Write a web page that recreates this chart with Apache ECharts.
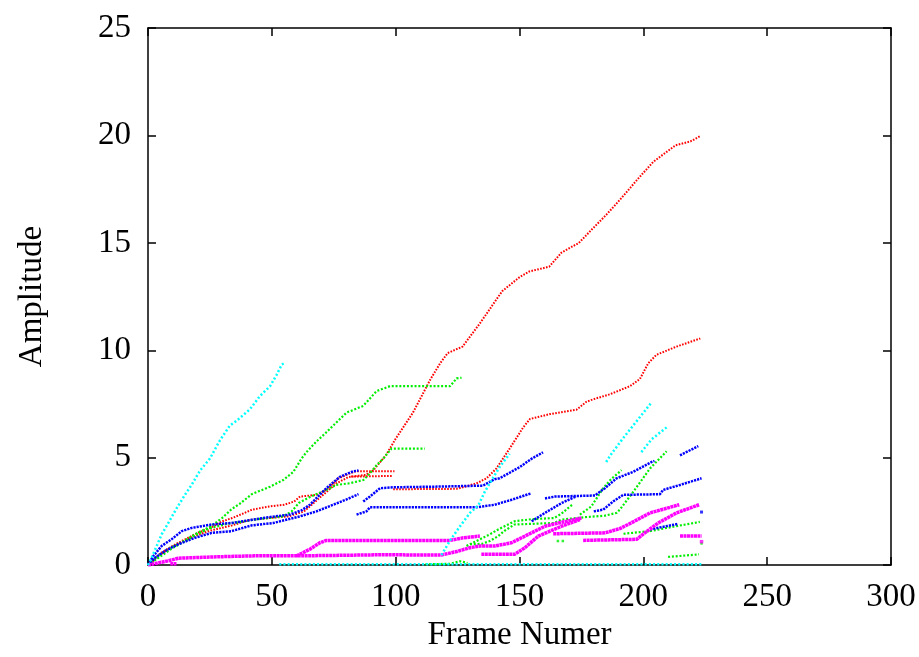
<!DOCTYPE html>
<html><head><meta charset="utf-8">
<script src="https://cdn.jsdelivr.net/npm/echarts@6/dist/echarts.min.js"></script>
<style>html,body{margin:0;padding:0;background:#fff;overflow:hidden}#c{width:919px;height:657px}</style>
</head><body><div id="c"></div>
<script>
// Axis ranges / ticks
const xMin = 0, xMax = 300, xStep = 50;
const yMin = 0, yMax = 25, yStep = 5;

// Red traces [frame, amplitude]
const redA = [[0,0],[5,0.55],[10,0.9],[15,1.2],[20,1.5],[25,1.72],[30,2.04],[34,2.19],[39,2.43],[42,2.58],[49,2.73],[55,2.81],[59,2.96],[61.4,3.19],[68,3.27],[72,3.5],[77,4.04],[81.5,4.27],[84,4.37],[99.5,4.37]];
const redB = [[0,0],[5,0.5],[10,0.85],[15,1.15],[20,1.4],[25,1.6],[34,1.85],[41,2.1],[50,2.2],[57,2.27],[63,2.5],[68,3.0],[72,3.4],[76,3.8],[81,4.1],[88,4.2],[91,4.42],[96,5.1],[100,5.88],[107,7.1],[114,8.64],[118,9.4],[121,9.87],[127,10.17],[134,11.25],[143,12.75],[150,13.4],[154,13.67],[162,13.89],[167,14.55],[174,15.0],[179,15.6],[185,16.3],[190.5,17.0],[198,18.0],[204,18.77],[213,19.54],[219,19.72],[223,19.97]];
const redC = [[82,4.12],[98.4,4.15]];
const redD = [[99,3.53],[124.6,3.55],[128,3.65],[132.7,3.81],[136.7,4.04],[140.7,4.5],[146,5.42],[151.5,6.41],[154.2,6.8],[162.3,7.03],[173,7.23],[177,7.6],[179.8,7.72],[186.5,7.95],[194.6,8.33],[198.6,8.66],[202,9.4],[205.3,9.79],[213.4,10.17],[223,10.55]];

// Green traces
const greenA = [[0,0],[5,0.5],[10,0.85],[15,1.15],[20,1.5],[25,1.78],[27.7,2.0],[30,2.2],[33.7,2.6],[37,2.85],[41.9,3.3],[45,3.45],[49.3,3.65],[54.6,3.96],[58.7,4.34],[62,4.96],[64,5.26],[68,5.75],[72,6.18],[77.5,6.8],[80.2,7.1],[86.9,7.41],[92.3,8.1],[97.7,8.33],[122,8.33],[124.6,8.69],[126.6,8.72]];
const greenB = [[0,0],[10,0.8],[20,1.45],[25,1.72],[32,1.92],[39.2,2.04],[43,2.12],[54.6,2.27],[58,2.5],[61,2.9],[65,3.15],[72,3.5],[76,3.73],[81.5,3.81],[87,3.96],[89.6,4.27],[92.3,4.65],[95,4.96],[98.3,5.42],[111.8,5.42]];
const greenBot = [[112,0.04],[122,0.06],[126,0.18],[129,0.1]];
const greenC = [[128.6,0.89],[134,1.2],[138,1.43],[141.4,1.66],[148,2.04],[155,2.14],[164,2.19],[167,2.4],[170.4,2.73],[171.5,2.82]];
const greenD = [[130,0.97],[135,0.99],[138,1.12],[141.4,1.35],[144,1.6],[148,1.89],[164,1.96],[167,2.12],[176.4,2.23],[184.5,2.3],[189.2,2.43],[190.5,2.58],[196,3.42],[202.7,4.5],[209.4,5.3]];
const greenE = [[174.4,2.35],[179,2.73],[183.8,3.58],[187,4.0],[191.2,4.42]];
const greenF = [[192,1.46],[202.7,1.58],[209.4,1.73],[222.8,2.01]];
const greenG = [[210,0.38],[222.5,0.5]];
const greenDots = [[165.5,1.12],[167.5,1.12],[223.5,1.01]];

// Blue traces
const blueA = [[0,0],[2,0.4],[5.5,0.89],[9.5,1.2],[13.6,1.58],[17.6,1.73],[25.7,1.89],[33.7,1.96],[42.5,2.12],[50,2.25],[57.3,2.35],[62,2.55],[65.4,2.81],[72,3.58],[77.5,4.11],[82.9,4.37],[85,4.4]];
const blueB = [[0,0],[3,0.35],[6.9,0.66],[12.2,0.97],[19,1.27],[25.7,1.5],[33.7,1.58],[41.9,1.85],[50.6,1.96],[61.4,2.27],[68,2.5],[74.8,2.81],[80,3.05],[85,3.3]];
const blueC = [[86.9,2.96],[89.6,3.19],[93.7,3.58],[99,3.62],[120,3.66],[135.3,3.7],[140,4.0],[142,4.04],[150.2,4.57],[155,4.96],[159.5,5.25]];
const blueD = [[84.2,2.35],[88.2,2.5],[89.6,2.69],[132.6,2.69],[140,2.81],[146.8,3.04],[153.6,3.3],[154.5,3.33]];
const blueE = [[160.3,3.1],[164.3,3.19],[180.5,3.24],[182.5,3.42],[184.5,3.58],[189.2,4.04],[195.9,4.34],[203.3,4.8],[204.5,4.85]];
const blueF = [[154.9,2.04],[160.3,2.43],[167,2.89],[171,3.1],[173,3.2]];
const blueG = [[180,2.5],[183.8,2.58],[187.8,2.96],[191.9,3.27],[206.7,3.3],[208,3.5],[214.8,3.73],[223.5,4.04]];
const blueH = [[214.8,5.11],[222.2,5.54]];
const blueI = [[202.7,1.66],[214.1,1.92]];
const blueDots = [[223.5,2.47]];

// Cyan traces
const cyanA = [[0,0],[1.5,0.35],[3.5,0.89],[5.5,1.43],[8.2,1.96],[11.6,2.65],[14.9,3.27],[17.6,3.73],[21,4.4],[25,4.96],[29,5.8],[33,6.49],[35.8,6.72],[41.2,7.26],[45.2,7.87],[49.3,8.33],[52,8.87],[54,9.33],[55,9.4]];
const cyanB = [[118.5,0.47],[122,1.15],[126,1.81],[130,2.43],[133.4,2.78],[136,3.42],[140,4.19],[142,4.57],[146,5.18]];
const cyanC = [[185,4.8],[187,5.16],[191.9,5.92],[198,6.8],[203.3,7.57]];
const cyanD = [[199.2,5.26],[203.3,5.85],[209.4,6.41]];
const cyanBot = [[53,0.04],[224,0.04]];

// Magenta traces
const magA = [[0,0],[4,0.1],[8.2,0.2],[12.2,0.32],[25.7,0.38],[43,0.43],[61.4,0.43],[93.7,0.48],[118.5,0.47],[124.6,0.63],[130,0.81],[134,0.89],[140,0.89],[146.8,1.04],[153.6,1.43],[160.3,1.81],[165.7,1.96],[175,2.19]];
const magB = [[60,0.43],[65.4,0.74],[69.4,1.04],[72,1.15],[122,1.15],[127.3,1.27],[134,1.35]];
const magC = [[134.6,0.5],[148,0.5],[152.2,0.81],[157.6,1.35],[167,1.81],[174.4,2.12]];
const magD = [[163.6,1.46],[184.5,1.5],[190.5,1.7],[195.9,2.01],[202.7,2.43],[214.5,2.81]];
const magE = [[175.7,1.15],[197.3,1.2],[200.6,1.5],[206,1.96],[213.4,2.43],[222.5,2.81]];
const magF = [[214.8,1.35],[223.5,1.35]];
const magSmall = [[9,0.06],[11.5,0.06]];
const magDots = [[223.5,1.09]];

const RED = '#ff0000', GREEN = '#00ee00', BLUE = '#0000ff', MAG = '#ff00ff', CYAN = '#00ffff';

function trace(data, color, width, dash) {
  return {type:'line', data:data, symbol:'none', showSymbol:false, silent:true, animation:false,
    clip:true, lineStyle:{color:color, width:width, type:dash, cap:'butt'}};
}
function dots(data, color, size) {
  return {type:'scatter', data:data, symbol:'rect', symbolSize:size, silent:true, animation:false,
    itemStyle:{color:color}};
}

const series = [];
[redA, redB, redC, redD].forEach(d => series.push(trace(d, RED, 2, [1.6,1.4])));
[greenA, greenB, greenBot, greenC, greenD, greenE, greenF, greenG].forEach(d => series.push(trace(d, GREEN, 2.2, [2,1.8])));
series.push(dots(greenDots, GREEN, 2.5));
[blueA, blueB, blueC, blueD, blueE, blueF, blueG, blueH, blueI].forEach(d => series.push(trace(d, BLUE, 2.5, [2.2,1])));
series.push(dots(blueDots, BLUE, 3));
[magA, magB, magC, magD, magE, magF, magSmall].forEach(d => series.push(trace(d, MAG, 3.5, [3,0.5])));
series.push(dots(magDots, MAG, 3.5));
[cyanA, cyanB, cyanC, cyanD, cyanBot].forEach(d => series.push(trace(d, CYAN, 2.5, [2,2.2])));

const FONT = 'Liberation Serif';
const axisCommon = {
  axisLine:{show:true, onZero:false, lineStyle:{color:'#000', width:1.5}},
  axisTick:{show:true, inside:true, length:8, lineStyle:{color:'#000', width:1.5}},
  splitLine:{show:false}
};

const chart = echarts.init(document.getElementById('c'), null, {renderer:'canvas', width:919, height:657});
chart.setOption({
  backgroundColor:'#fff',
  animation:false,
  grid:{left:148, top:28, width:743, height:543, containLabel:false},
  xAxis:[
    Object.assign({type:'value', min:xMin, max:xMax, interval:xStep, position:'bottom',
      name:'Frame Numer', nameLocation:'middle', nameGap:53,
      nameTextStyle:{fontFamily:FONT, fontSize:33, color:'#000'},
      axisLabel:{fontFamily:FONT, fontSize:33, color:'#000', margin:16}}, axisCommon),
    Object.assign({type:'value', min:xMin, max:xMax, interval:xStep, position:'top',
      axisLabel:{show:false}}, axisCommon)
  ],
  yAxis:[
    Object.assign({type:'value', min:yMin, max:yMax, interval:yStep, position:'left',
      name:'Amplitude', nameLocation:'middle', nameGap:99, nameRotate:90,
      nameTextStyle:{fontFamily:FONT, fontSize:33, color:'#000'},
      axisLabel:{fontFamily:FONT, fontSize:33, color:'#000', margin:17}}, axisCommon),
    Object.assign({type:'value', min:yMin, max:yMax, interval:yStep, position:'right',
      axisLabel:{show:false}}, axisCommon)
  ],
  series: series
});
</script>
</body></html>
